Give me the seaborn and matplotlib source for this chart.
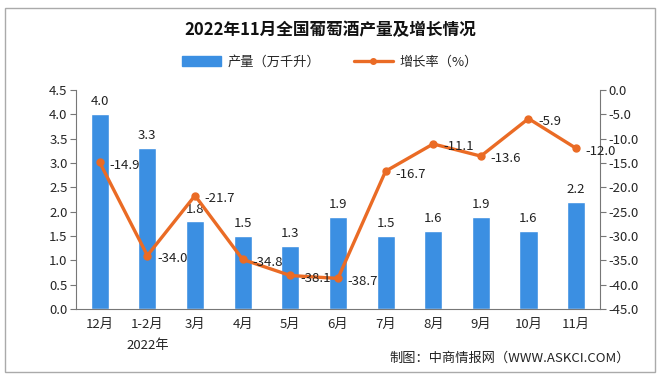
import numpy as np
import pandas as pd
import matplotlib
matplotlib.use("Agg")
import matplotlib.pyplot as plt
import seaborn as sns
from matplotlib.patches import Rectangle
from matplotlib.lines import Line2D

# Daten
months = ["12月", "1-2月", "3月", "4月", "5月", "6月", "7月", "8月", "9月", "10月", "11月"]
output = [4.0, 3.3, 1.8, 1.5, 1.3, 1.9, 1.5, 1.6, 1.9, 1.6, 2.2]
growth = [-14.9, -34.0, -21.7, -34.8, -38.1, -38.7, -16.7, -11.1, -13.6, -5.9, -12.0]

bar_color = "#3b8fe2"
line_color = "#ea6b25"

sns.set_style("white")
plt.rcParams["font.family"] = ["Noto Sans CJK SC", "DejaVu Sans"]

df = pd.DataFrame({"month": months, "output": output, "growth": growth})

fig = plt.figure(figsize=(6.6, 3.84), dpi=100)
ax = fig.add_axes([0.115, 0.195, 0.794, 0.571])

sns.barplot(data=df, x="month", y="output", color=bar_color, width=0.38,
            saturation=1, ax=ax)
ax.set_ylim(0, 4.5)
ax.set_yticks(np.arange(0, 4.51, 0.5))
ax.set_yticklabels([f"{v:.1f}" for v in np.arange(0, 4.51, 0.5)], fontsize=9.5)
ax.set_xlim(-0.5, len(months) - 0.5)
ax.set_xlabel("")
ax.set_ylabel("")
ax.tick_params(axis="x", length=0, labelsize=9.5, pad=6)
ax.set_xticks(np.arange(len(months) + 1) - 0.5, minor=True)
ax.tick_params(axis="x", which="minor", length=4, color="#777777", direction="out")
ax.tick_params(axis="y", length=4, color="#777777", direction="out", pad=2)

for i, v in enumerate(output):
    ax.text(i, v + 0.12, f"{v:.1f}", ha="center", va="bottom", fontsize=9.5, color="#222222")

# 2022年 unter 1-2月
ax.text(1, -0.62, "2022年", ha="center", va="top", fontsize=9.5, color="#222222")

ax2 = ax.twinx()
ax2.plot(range(len(months)), growth, color=line_color, lw=2.4, marker="o", ms=5,
         solid_capstyle="round")
ax2.set_ylim(-45, 0)
ax2.set_yticks(np.arange(-45, 0.1, 5))
ax2.set_yticklabels([f"{v:.1f}" for v in np.arange(-45, 0.1, 5)], fontsize=9.5)
ax2.tick_params(axis="y", length=4, color="#777777", direction="out", pad=2)

for i, v in enumerate(growth):
    ax2.annotate(f"{v:.1f}", (i, v), xytext=(7, -2), textcoords="offset points",
                 ha="left", va="center", fontsize=9.5, color="#222222")

for a in (ax, ax2):
    a.spines["top"].set_visible(False)
    for s in ("left", "right", "bottom"):
        a.spines[s].set_color("#777777")
        a.spines[s].set_linewidth(0.8)
ax.spines["right"].set_visible(False)
ax2.spines["left"].set_visible(False)
ax2.spines["bottom"].set_visible(False)

fig.text(0.5, 0.922, "2022年11月全国葡萄酒产量及增长情况", ha="center", va="center",
         fontsize=12, fontweight="bold", color="#111111")

handles = [Rectangle((0, 0), 1, 1, color=bar_color),
           Line2D([0], [0], color=line_color, lw=2.4, marker="o", ms=4)]
fig.legend(handles, ["产量（万千升）", "增长率（%）"], loc="center", ncol=2,
           bbox_to_anchor=(0.5, 0.838), frameon=False, fontsize=9.5,
           handlelength=3, columnspacing=2.5, handletextpad=0.5)

fig.text(0.955, 0.068, "制图：中商情报网（WWW.ASKCI.COM）", ha="right", va="center",
         fontsize=9.5, color="#222222")

# Rahmen
fig.patches.append(Rectangle((0.008, 0.03), 0.984, 0.95, transform=fig.transFigure,
                             fill=False, edgecolor="#aaaaaa", lw=1))

fig.savefig("out.png", dpi=100)
